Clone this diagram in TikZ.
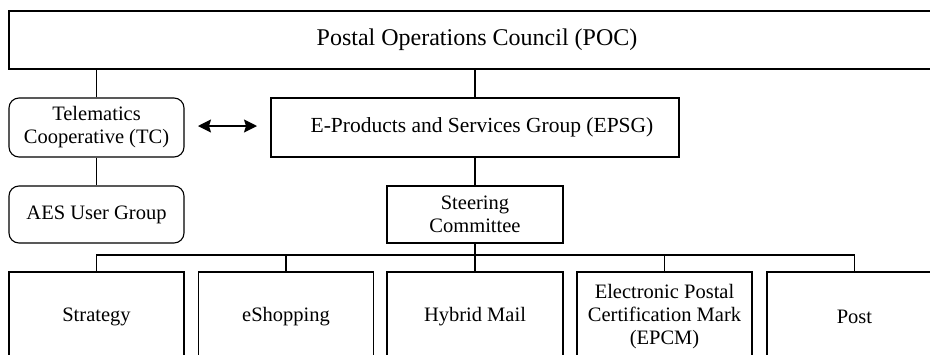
\documentclass[tikz,border=0pt]{standalone}
\usepackage{fontspec}
\setmainfont{Liberation Serif}
\usetikzlibrary{arrows.meta}
\tikzset{
  box/.style={draw, line width=1.1pt, align=center, inner sep=2pt,
    font=\fontsize{20.5}{23}\selectfont},
  rbox/.style={box, rounded corners=10pt},
  conn/.style={draw, line width=1.1pt},
  dbl/.style={line width=1.2pt, {Stealth[length=13pt,width=13pt,inset=2pt]}-{Stealth[length=13pt,width=13pt,inset=2pt]}}
}
\begin{document}
\begin{tikzpicture}[x=1pt,y=-1pt]
\useasboundingbox (0,0) rectangle (930,354);
\clip (0,0) rectangle (930,354);
\node[box, minimum width=936pt, minimum height=58pt, font=\fontsize{24}{27}\selectfont] (poc) at (477,40) {Postal Operations Council (POC)};
\node[rbox, minimum width=175pt, minimum height=59pt] (tc) at (96.5,127.5) {Telematics\\Cooperative (TC)};
\node[box, minimum width=408pt, minimum height=59pt, font=\fontsize{21.5}{24}\selectfont] (epsg) at (475,127.5) {\hspace*{14pt}E-Products and Services Group (EPSG)};
\node[rbox, minimum width=175pt, minimum height=57pt] (aes) at (96.5,214.5) {AES User Group};
\node[box, minimum width=176pt, minimum height=57pt] (sc) at (475,214.5) {Steering\\Committee};
\node[box, minimum width=175pt, minimum height=90pt] (b1) at (96.5,317) {Strategy};
\node[box, minimum width=175pt, minimum height=90pt] (b2) at (286,317) {eShopping};
\node[box, minimum width=176pt, minimum height=90pt] (b3) at (475,317) {Hybrid Mail};
\node[box, minimum width=175pt, minimum height=90pt] (b4) at (664.5,317) {Electronic Postal\\Certification Mark\\(EPCM)};
\node[box, minimum width=175pt, minimum height=90pt] (b5) at (854.5,317) {Post};
\coordinate (bus) at (0,255);
\coordinate (arl) at (198,126);
\coordinate (arr) at (257,126);
\draw[conn] (tc.north) -- (tc.north |- poc.south);
\draw[conn] (epsg.north) -- (epsg.north |- poc.south);
\draw[conn] (tc.south) -- (aes.north);
\draw[conn] (epsg.south) -- (sc.north);
\draw[conn] (sc.south) -- (sc.south |- bus);
\draw[conn] (b1.north) -- (b1.north |- bus) -- (b5.north |- bus) -- (b5.north);
\draw[conn] (b2.north) -- (b2.north |- bus);
\draw[conn] (b3.north) -- (b3.north |- bus);
\draw[conn] (b4.north) -- (b4.north |- bus);
\draw[dbl] (arl) -- (arr);
\end{tikzpicture}
\end{document}
